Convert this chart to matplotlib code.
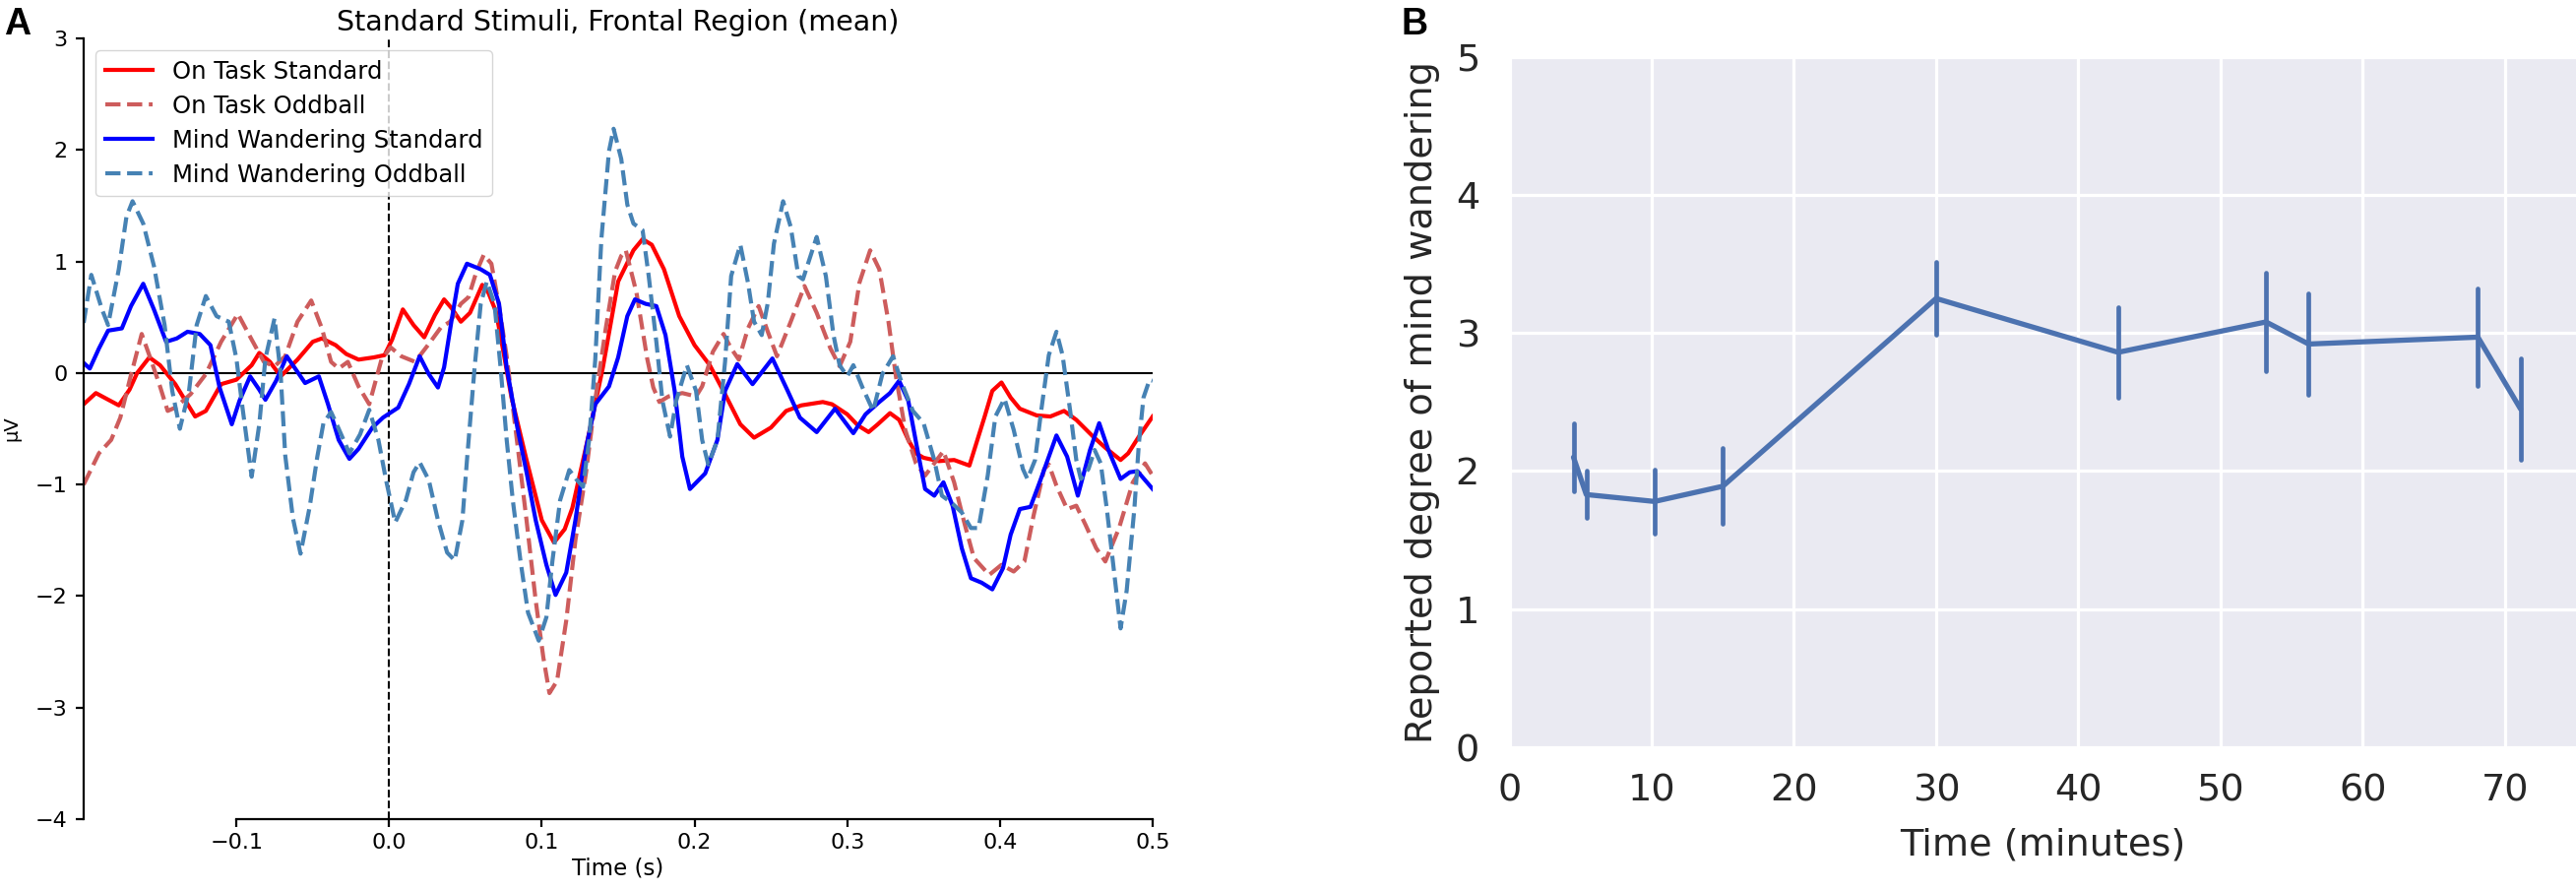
import matplotlib
matplotlib.use("Agg")
import matplotlib.pyplot as plt

# ---- panel A: ERP traces (time in s, amplitude in uV) ----
ot_std_t = [-0.200, -0.192, -0.177, -0.170, -0.165, -0.157, -0.150, -0.140, -0.127, -0.120,
            -0.110, -0.100, -0.090, -0.085, -0.078, -0.071, -0.060, -0.050, -0.044, -0.035,
            -0.028, -0.020, -0.010, -0.003, 0.002, 0.009, 0.016, 0.023, 0.030, 0.036,
            0.041, 0.047, 0.053, 0.061, 0.065, 0.070, 0.075, 0.080, 0.090, 0.100,
            0.108, 0.115, 0.120, 0.130, 0.140, 0.150, 0.160, 0.166, 0.172, 0.180,
            0.190, 0.200, 0.210, 0.220, 0.230, 0.239, 0.250, 0.260, 0.270, 0.284,
            0.290, 0.300, 0.307, 0.314, 0.320, 0.328, 0.334, 0.340, 0.345, 0.350,
            0.360, 0.370, 0.376, 0.380, 0.390, 0.395, 0.401, 0.407, 0.413, 0.424,
            0.433, 0.442, 0.450, 0.461, 0.469, 0.479, 0.484, 0.491, 0.500]
ot_std_v = [-0.28, -0.18, -0.29, -0.15, 0.00, 0.14, 0.07, -0.10, -0.39, -0.34,
            -0.10, -0.06, 0.07, 0.18, 0.10, -0.03, 0.12, 0.28, 0.31, 0.25,
            0.17, 0.12, 0.14, 0.16, 0.30, 0.57, 0.43, 0.32, 0.52, 0.66,
            0.58, 0.46, 0.54, 0.79, 0.72, 0.55, 0.18, -0.21, -0.78, -1.32,
            -1.52, -1.40, -1.21, -0.60, 0.05, 0.82, 1.10, 1.20, 1.15, 0.93,
            0.51, 0.25, 0.07, -0.19, -0.46, -0.58, -0.49, -0.34, -0.29, -0.26,
            -0.28, -0.37, -0.47, -0.53, -0.46, -0.36, -0.42, -0.60, -0.72, -0.76,
            -0.79, -0.78, -0.81, -0.83, -0.39, -0.16, -0.085, -0.22, -0.32, -0.38,
            -0.39, -0.34, -0.42, -0.57, -0.67, -0.78, -0.72, -0.57, -0.39]

ot_odd_t = [-0.200, -0.190, -0.182, -0.176, -0.170, -0.162, -0.156, -0.150, -0.145, -0.140,
            -0.130, -0.120, -0.110, -0.099, -0.090, -0.082, -0.075, -0.068, -0.060, -0.051,
            -0.044, -0.038, -0.033, -0.027, -0.020, -0.013, -0.005, 0.001, 0.008, 0.017,
            0.026, 0.034, 0.040, 0.047, 0.052, 0.057, 0.062, 0.067, 0.072, 0.077,
            0.081, 0.085, 0.090, 0.096, 0.101, 0.105, 0.110, 0.116, 0.122, 0.129,
            0.135, 0.142, 0.148, 0.152, 0.155, 0.162, 0.169, 0.173, 0.177, 0.183,
            0.192, 0.201, 0.205, 0.212, 0.219, 0.224, 0.229, 0.235, 0.242, 0.248,
            0.254, 0.263, 0.272, 0.280, 0.289, 0.295, 0.302, 0.308, 0.315, 0.321,
            0.327, 0.332, 0.338, 0.345, 0.351, 0.357, 0.363, 0.370, 0.377, 0.383,
            0.393, 0.401, 0.409, 0.416, 0.422, 0.429, 0.432, 0.437, 0.444, 0.450,
            0.456, 0.463, 0.469, 0.478, 0.487, 0.495, 0.500]
ot_odd_v = [-1.00, -0.72, -0.60, -0.40, -0.07, 0.35, 0.12, -0.12, -0.34, -0.31,
            -0.19, -0.01, 0.28, 0.53, 0.30, 0.10, 0.06, 0.15, 0.46, 0.65,
            0.40, 0.10, 0.04, 0.10, -0.12, -0.28, 0.12, 0.23, 0.15, 0.10,
            0.26, 0.41, 0.46, 0.62, 0.68, 0.90, 1.06, 0.98, 0.60, 0.15,
            -0.30, -0.75, -1.32, -2.04, -2.55, -2.87, -2.76, -2.22, -1.50, -0.89,
            -0.24, 0.41, 0.91, 1.05, 1.10, 0.72, 0.13, -0.13, -0.26, -0.21,
            -0.18, -0.21, -0.12, 0.19, 0.35, 0.22, 0.12, 0.40, 0.60, 0.37,
            0.15, 0.46, 0.78, 0.54, 0.22, 0.06, 0.28, 0.81, 1.10, 0.93,
            0.46, -0.04, -0.51, -0.81, -0.92, -0.81, -0.70, -0.98, -1.36, -1.66,
            -1.81, -1.72, -1.78, -1.69, -1.28, -0.86, -0.82, -1.01, -1.22, -1.19,
            -1.36, -1.57, -1.69, -1.39, -0.98, -0.81, -0.92]

mw_std_t = [-0.200, -0.196, -0.190, -0.184, -0.175, -0.169, -0.161, -0.154, -0.146, -0.139,
            -0.132, -0.124, -0.117, -0.111, -0.103, -0.098, -0.091, -0.085, -0.081, -0.074,
            -0.067, -0.060, -0.055, -0.046, -0.040, -0.033, -0.026, -0.020, -0.011, -0.004,
            0.006, 0.013, 0.020, 0.026, 0.032, 0.036, 0.041, 0.045, 0.051, 0.060,
            0.066, 0.072, 0.077, 0.084, 0.090, 0.096, 0.103, 0.109, 0.116, 0.122,
            0.129, 0.135, 0.144, 0.150, 0.156, 0.161, 0.168, 0.175, 0.181, 0.187,
            0.192, 0.197, 0.207, 0.215, 0.220, 0.228, 0.238, 0.251, 0.261, 0.269,
            0.280, 0.292, 0.304, 0.312, 0.321, 0.328, 0.334, 0.340, 0.346, 0.351,
            0.357, 0.363, 0.369, 0.375, 0.381, 0.388, 0.395, 0.402, 0.407, 0.413,
            0.420, 0.426, 0.437, 0.444, 0.451, 0.459, 0.465, 0.471, 0.479, 0.485,
            0.490, 0.500]
mw_std_v = [0.09, 0.04, 0.22, 0.38, 0.40, 0.60, 0.80, 0.57, 0.28, 0.31,
            0.37, 0.35, 0.25, -0.13, -0.46, -0.25, -0.03, -0.15, -0.24, -0.07,
            0.15, 0.01, -0.09, -0.03, -0.28, -0.60, -0.77, -0.68, -0.49, -0.40,
            -0.31, -0.10, 0.15, -0.01, -0.13, 0.05, 0.48, 0.80, 0.98, 0.93,
            0.88, 0.62, 0.05, -0.49, -0.89, -1.32, -1.72, -1.99, -1.79, -1.32,
            -0.67, -0.28, -0.12, 0.14, 0.51, 0.66, 0.62, 0.60, 0.34, -0.16,
            -0.75, -1.04, -0.90, -0.60, -0.16, 0.08, -0.10, 0.13, -0.16, -0.40,
            -0.53, -0.32, -0.54, -0.37, -0.26, -0.18, -0.07, -0.25, -0.69, -1.04,
            -1.10, -0.98, -1.19, -1.57, -1.84, -1.88, -1.94, -1.75, -1.45, -1.22,
            -1.20, -0.98, -0.56, -0.75, -1.10, -0.69, -0.45, -0.69, -0.95, -0.89,
            -0.88, -1.04]

mw_odd_t = [-0.200, -0.195, -0.188, -0.184, -0.177, -0.172, -0.168, -0.161, -0.154, -0.147,
            -0.142, -0.137, -0.131, -0.126, -0.120, -0.113, -0.105, -0.100, -0.096, -0.090,
            -0.085, -0.081, -0.075, -0.071, -0.068, -0.063, -0.058, -0.052, -0.047, -0.043,
            -0.038, -0.033, -0.026, -0.019, -0.013, -0.007, -0.002, 0.004, 0.011, 0.016,
            0.020, 0.026, 0.032, 0.038, 0.043, 0.048, 0.051, 0.056, 0.060, 0.064,
            0.069, 0.073, 0.077, 0.081, 0.086, 0.091, 0.098, 0.103, 0.107, 0.112,
            0.118, 0.123, 0.127, 0.131, 0.135, 0.139, 0.144, 0.147, 0.152, 0.156,
            0.160, 0.166, 0.170, 0.175, 0.179, 0.184, 0.188, 0.195, 0.201, 0.205,
            0.209, 0.215, 0.220, 0.224, 0.230, 0.235, 0.239, 0.244, 0.248, 0.252,
            0.258, 0.263, 0.268, 0.271, 0.280, 0.286, 0.291, 0.295, 0.300, 0.304,
            0.310, 0.317, 0.323, 0.330, 0.336, 0.343, 0.350, 0.357, 0.362, 0.368,
            0.375, 0.381, 0.386, 0.392, 0.397, 0.403, 0.409, 0.415, 0.418, 0.423,
            0.427, 0.432, 0.437, 0.441, 0.446, 0.450, 0.453, 0.458, 0.462, 0.466,
            0.470, 0.475, 0.479, 0.483, 0.488, 0.491, 0.494, 0.498, 0.500]
mw_odd_v = [0.45, 0.88, 0.57, 0.43, 0.93, 1.40, 1.54, 1.34, 0.96, 0.43,
            -0.16, -0.50, -0.16, 0.43, 0.69, 0.51, 0.46, 0.13, -0.31, -0.93,
            -0.46, 0.13, 0.49, -0.01, -0.74, -1.30, -1.62, -1.20, -0.75, -0.45,
            -0.35, -0.50, -0.72, -0.55, -0.33, -0.60, -0.96, -1.34, -1.14, -0.89,
            -0.80, -0.96, -1.32, -1.61, -1.68, -1.32, -0.78, 0.05, 0.62, 0.82,
            0.62, 0.05, -0.60, -1.14, -1.68, -2.15, -2.40, -2.19, -1.68, -1.14,
            -0.87, -0.96, -1.02, -0.60, 0.12, 1.20, 1.99, 2.19, 1.92, 1.51,
            1.34, 1.28, 0.87, 0.28, -0.25, -0.57, -0.25, 0.07, -0.16, -0.60,
            -0.82, -0.60, 0.10, 0.87, 1.15, 0.81, 0.46, 0.34, 0.63, 1.16,
            1.54, 1.31, 0.87, 0.84, 1.22, 0.87, 0.34, 0.07, -0.03, 0.07,
            -0.13, -0.34, -0.01, 0.15, -0.10, -0.34, -0.45, -0.78, -1.10, -1.16,
            -1.25, -1.39, -1.39, -0.92, -0.39, -0.23, -0.51, -0.86, -0.95, -0.78,
            -0.34, 0.16, 0.37, 0.16, -0.34, -0.78, -0.95, -0.86, -0.69, -0.81,
            -1.22, -1.81, -2.29, -1.95, -1.22, -0.63, -0.22, -0.06, -0.07]

# ---- panel B: reported mind wandering over time ----
minutes = [4.5, 5.4, 10.2, 15.0, 30.0, 42.8, 53.2, 56.2, 68.1, 71.1]
degree = [2.10, 1.83, 1.78, 1.89, 3.25, 2.86, 3.08, 2.92, 2.97, 2.45]
degree_err = [0.245, 0.17, 0.23, 0.275, 0.265, 0.33, 0.355, 0.37, 0.355, 0.365]

W, H = 2617, 905
fig = plt.figure(figsize=(W / 100, H / 100), dpi=100)

# panel A
axA = fig.add_axes([85 / W, (H - 832) / H, (1171 - 85) / W, (832 - 39) / H])
lw = 3.0
axA.plot(ot_std_t, ot_std_v, color='red', lw=lw, label='On Task Standard')
axA.plot(ot_odd_t, ot_odd_v, color='indianred', lw=lw, ls='--', label='On Task Oddball')
axA.plot(mw_std_t, mw_std_v, color='blue', lw=lw, label='Mind Wandering Standard')
axA.plot(mw_odd_t, mw_odd_v, color='steelblue', lw=lw, ls='--', label='Mind Wandering Oddball')
axA.axhline(0, color='black', lw=1.5, zorder=1)
axA.axvline(0, color='black', lw=1.5, ls='--', zorder=1)
axA.set_xlim(-0.2, 0.5)
axA.set_ylim(-4, 3)
axA.set_xticks([-0.1, 0.0, 0.1, 0.2, 0.3, 0.4, 0.5])
axA.set_yticks([-4, -3, -2, -1, 0, 1, 2, 3])
axA.spines['top'].set_visible(False)
axA.spines['right'].set_visible(False)
axA.spines['bottom'].set_bounds(-0.1, 0.5)
for s in ('left', 'bottom'):
    axA.spines[s].set_linewidth(1.6)
axA.tick_params(axis='both', length=6, width=1.6, labelsize=16)
axA.tick_params(axis='x', pad=4)
axA.tick_params(axis='y', pad=6)
axA.set_xlabel('Time (s)', fontsize=16.5, labelpad=3)
axA.set_ylabel('µV', fontsize=14, labelpad=10)
axA.set_title('Standard Stimuli, Frontal Region (mean)', fontsize=20.5, pad=6)
axA.legend(loc='upper left', fontsize=17.5, labelspacing=0.45, handlelength=2.0)

# panel B
axB = fig.add_axes([1533.5 / W, (H - 759) / H, (W - 1533.5) / W, (759 - 57.7) / H])
axB.set_facecolor('#EAEAF2')
axB.grid(True, color='white', lw=2.3)
axB.set_axisbelow(True)
for s in axB.spines.values():
    s.set_visible(False)
col = '#4C72B0'
line, caps, bars = axB.errorbar(minutes, degree, yerr=degree_err, color=col, lw=3.8,
                                elinewidth=3.4, capsize=0, solid_capstyle='round')
for b in bars:
    b.set_capstyle('round')
axB.set_xlim(0, 75)
axB.set_ylim(0, 5)
axB.set_xticks([0, 10, 20, 30, 40, 50, 60, 70])
axB.set_yticks([0, 1, 2, 3, 4, 5])
axB.tick_params(axis='both', length=0, labelsize=27.5, colors='#262626')
axB.tick_params(axis='x', pad=19)
axB.tick_params(axis='y', pad=22)
axB.set_xlabel('Time (minutes)', fontsize=27.5, color='#262626', labelpad=14)
axB.set_ylabel('Reported degree of mind wandering', fontsize=27.5, color='#262626', labelpad=11)

# panel letters
fig.text(4 / W, (H - 35) / H, 'A', fontsize=27, fontweight='bold',
         family=['Liberation Sans', 'DejaVu Sans'], va='baseline')
fig.text(1423 / W, (H - 35) / H, 'B', fontsize=27, fontweight='bold',
         family=['Liberation Sans', 'DejaVu Sans'], va='baseline')

fig.savefig('out.png', dpi=100)
